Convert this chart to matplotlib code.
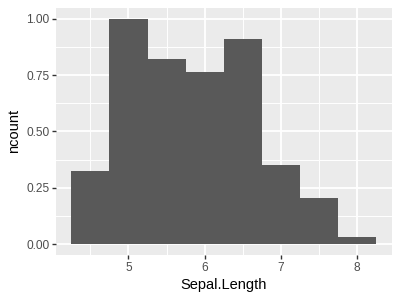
import matplotlib
matplotlib.use("Agg")
import matplotlib.pyplot as plt
import numpy as np

plt.rcParams['font.family'] = ['Liberation Sans', 'DejaVu Sans']

# Histogram of Sepal.Length, binwidth 0.5
bin_edges = [4.25, 4.75, 5.25, 5.75, 6.25, 6.75, 7.25, 7.75, 8.25]
counts = [11, 34, 28, 26, 31, 12, 7, 1]
x_ticks = [5, 6, 7, 8]
x_tick_labels = ["5", "6", "7", "8"]
y_ticks = [0.0, 0.25, 0.5, 0.75, 1.0]
y_tick_labels = ["0.00", "0.25", "0.50", "0.75", "1.00"]

ncount = np.array(counts) / max(counts)
edges = np.array(bin_edges)
widths = np.diff(edges)

fig = plt.figure(figsize=(4, 3), dpi=100)
ax = fig.add_axes([0.14, 0.149, 0.839, 0.826])
ax.set_facecolor('#EBEBEB')

ax.bar(edges[:-1], ncount, width=widths, align='edge', color='#595959', linewidth=0, zorder=3)

lo, hi = edges[0], edges[-1]
pad = (hi - lo) * 0.05
ax.set_xlim(lo - pad, hi + pad)
ax.set_ylim(-0.05, 1.05)

ax.set_xticks(x_ticks)
ax.set_xticklabels(x_tick_labels)
ax.set_yticks(y_ticks)
ax.set_yticklabels(y_tick_labels)
ax.set_xticks([4.5, 5.5, 6.5, 7.5], minor=True)
ax.set_yticks([0.125, 0.375, 0.625, 0.875], minor=True)

ax.grid(which='major', color='white', linewidth=1.35, zorder=1)
ax.grid(which='minor', color='white', linewidth=0.7, zorder=1)
ax.set_axisbelow(True)

for s in ax.spines.values():
    s.set_visible(False)

ax.tick_params(which='major', length=2.6, width=1.0, color='#333333',
               labelcolor='#4D4D4D', labelsize=8.6, pad=2)
ax.tick_params(which='minor', length=0)

ax.set_xlabel('Sepal.Length', fontsize=10.5, color='black', labelpad=3)
ax.set_ylabel('ncount', fontsize=10.5, color='black', labelpad=4)

fig.savefig('out.png', dpi=100)
